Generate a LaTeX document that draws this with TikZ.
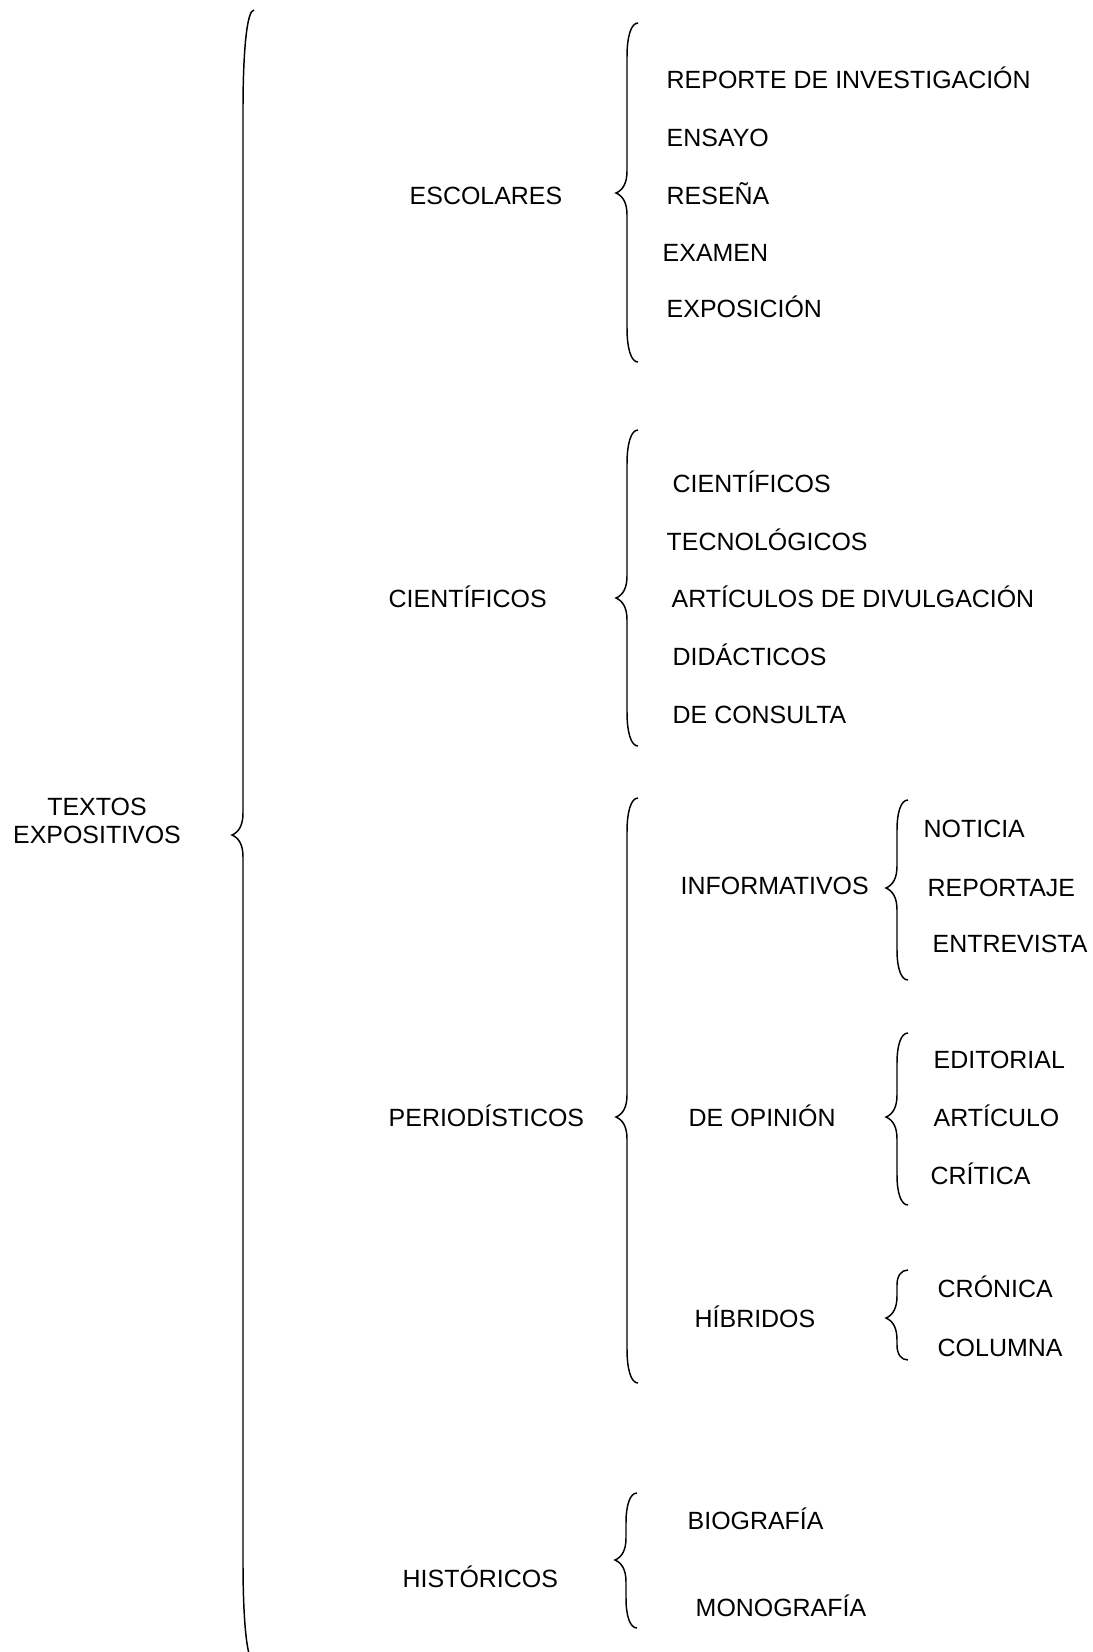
\documentclass[tikz,border=0pt]{standalone}
\usepackage{fontspec}
\setmainfont{Liberation Sans}
\usetikzlibrary{positioning}

% curly brace: x of line, top, tip, bottom, reach of the ends
\newcommand{\wordbrace}[5]{%
  \draw (#1+11,#2) .. controls (#1+4,#2) and (#1,#2+0.4*#5) .. (#1,#2+#5)
    -- (#1,#3-22) .. controls (#1,#3-10) and (#1-4,#3-3) .. (#1-11,#3)
    .. controls (#1-4,#3+3) and (#1,#3+10) .. (#1,#3+22)
    -- (#1,#4-#5) .. controls (#1,#4-0.4*#5) and (#1+4,#4) .. (#1+11,#4);
}

\begin{document}
\begin{tikzpicture}[x=0.75pt,y=-0.75pt,line width=1.1pt,
  item/.style={anchor=base west,inner sep=0pt,font=\fontsize{18.7}{21}\selectfont}]

\useasboundingbox (0,0) rectangle (1092,1652);

\node[inner sep=0pt,align=center,font=\fontsize{18.7}{21}\selectfont] (root) at (97,821) {TEXTOS\\EXPOSITIVOS};

\node[item] (esc) at (409,204) {ESCOLARES};
\node[item] (cie) at (388,607) {CIENTÍFICOS};
\node[item] (per) at (388,1126) {PERIODÍSTICOS};
\node[item] (his) at (402,1587) {HISTÓRICOS};

\node[item] (esc1) at (666,89) {REPORTE DE INVESTIGACIÓN};
\node[item] (esc2) at (666,146) {ENSAYO};
\node[item] (esc3) at (666,204) {RESEÑA};
\node[item] (esc4) at (662,261) {EXAMEN};
\node[item] (esc5) at (666,317) {EXPOSICIÓN};

\node[item] (cie1) at (672,492) {CIENTÍFICOS};
\node[item] (cie2) at (666,550) {TECNOLÓGICOS};
\node[item] (cie3) at (671,607) {ARTÍCULOS DE DIVULGACIÓN};
\node[item] (cie4) at (672,665) {DIDÁCTICOS};
\node[item] (cie5) at (672,723) {DE CONSULTA};

\node[item] (inf) at (680,894) {INFORMATIVOS};
\node[item] (inf1) at (923,837) {NOTICIA};
\node[item] (inf2) at (927,896) {REPORTAJE};
\node[item] (inf3) at (932,952) {ENTREVISTA};

\node[item] (opi) at (688,1126) {DE OPINIÓN};
\node[item] (opi1) at (933,1068) {EDITORIAL};
\node[item] (opi2) at (933,1126) {ARTÍCULO};
\node[item] (opi3) at (930,1184) {CRÍTICA};

\node[item] (hib) at (694,1327) {HÍBRIDOS};
\node[item] (hib1) at (937,1297) {CRÓNICA};
\node[item] (hib2) at (937,1356) {COLUMNA};

\node[item] (his1) at (687,1529) {BIOGRAFÍA};
\node[item] (his2) at (695,1616) {MONOGRAFÍA};

\wordbrace{243}{10}{835}{1662}{100}
\wordbrace{627}{23}{193}{362}{34}
\wordbrace{627}{430}{598}{746}{34}
\wordbrace{627}{798}{1117}{1383}{34}
\wordbrace{897}{800}{888}{980}{30}
\wordbrace{897}{1033}{1117}{1205}{30}
\wordbrace{897}{1270}{1318}{1360}{15}
\wordbrace{626}{1493}{1560}{1628}{30}

\end{tikzpicture}
\end{document}
